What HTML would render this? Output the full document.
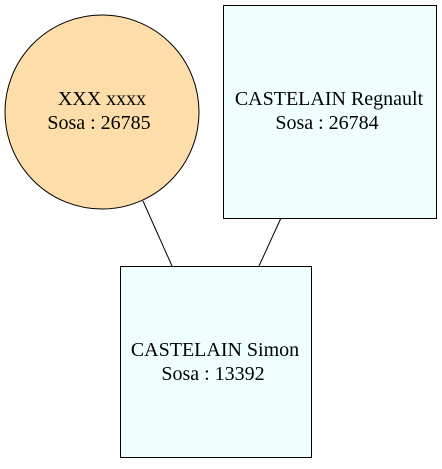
<!DOCTYPE html>
<html><head><style>html,body{margin:0;padding:0;background:#fff;}</style></head>
<body>
<svg width="442" height="464" xmlns="http://www.w3.org/2000/svg" style="font-family:'Liberation Serif',serif" font-size="20" text-anchor="middle">
<line x1="143" y1="201" x2="172" y2="266" stroke="#000" stroke-width="1"/>
<line x1="281" y1="218" x2="259" y2="266" stroke="#000" stroke-width="1"/>
<circle cx="102" cy="112" r="97" fill="#fddeab" stroke="#000" stroke-width="1"/>
<rect x="223.5" y="5.5" width="213" height="213" fill="#efffff" stroke="#000" stroke-width="1"/>
<rect x="120.5" y="266.5" width="191" height="191" fill="#efffff" stroke="#000" stroke-width="1"/>
<text x="102" y="105">XXX xxxx</text>
<text x="99" y="129">Sosa : 26785</text>
<text x="329" y="105">CASTELAIN Regnault</text>
<text x="327" y="129">Sosa : 26784</text>
<text x="215" y="356">CASTELAIN Simon</text>
<text x="213" y="380">Sosa : 13392</text>
</svg>
</body></html>
